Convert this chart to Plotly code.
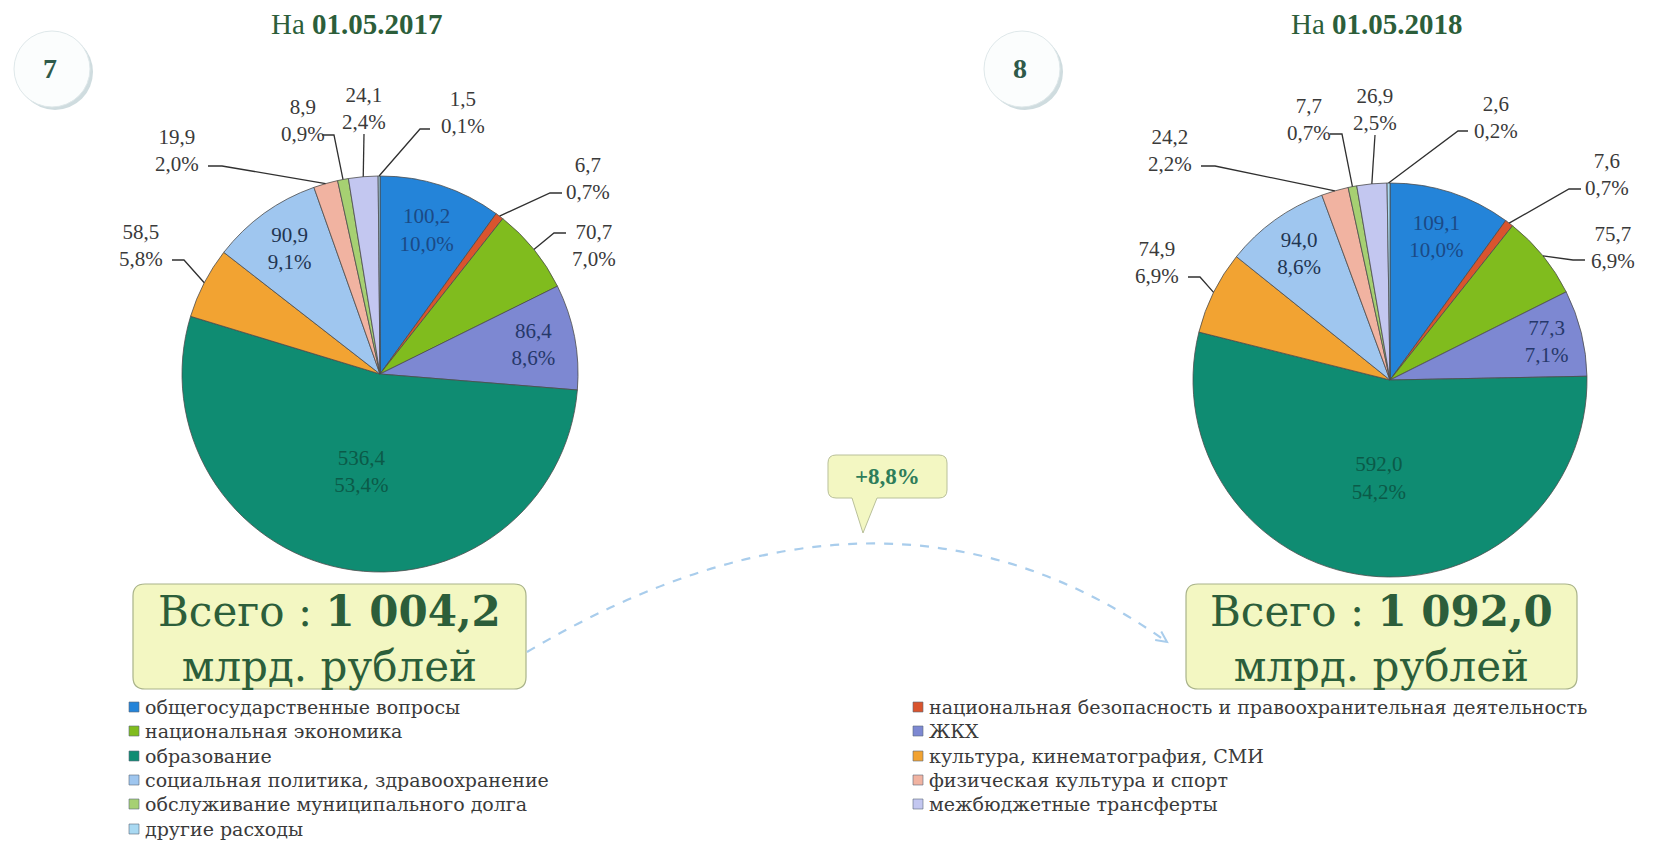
import math
import plotly.graph_objects as go

W, H = 1662, 843

# ---------------- data ----------------
categories = [
    "общегосударственные вопросы",
    "национальная безопасность и правоохранительная деятельность",
    "национальная экономика",
    "ЖКХ",
    "образование",
    "культура, кинематография, СМИ",
    "социальная политика, здравоохранение",
    "физическая культура и спорт",
    "обслуживание муниципального долга",
    "межбюджетные трансферты",
    "другие расходы",
]
values_2017 = [100.2, 6.7, 70.7, 86.4, 536.4, 58.5, 90.9, 19.9, 8.9, 24.1, 1.5]
values_2018 = [109.1, 7.6, 75.7, 77.3, 592.0, 74.9, 94.0, 24.2, 7.7, 26.9, 2.6]
title_2017 = "На <b>01.05.2017</b>"
title_2018 = "На <b>01.05.2018</b>"
growth_label = "+8,8%"
chart_numbers = ["7", "8"]

# ---------------- styles ----------------
colors = ["#2484d9", "#d9542e", "#80bc1e", "#7d88d2", "#0f8c72", "#f2a332",
          "#9fc6ef", "#f1b3a1", "#a6d072", "#c3c7f0", "#a9d9f2"]
inside_text_colors = ["#1b4a86", "#333", "#333", "#26386a", "#0b5a48", "#333",
                      "#1f3552", "#333", "#333", "#333", "#333"]
SERIF = "Liberation Serif, Times New Roman, serif"
WIDE_SERIF = "DejaVu Serif, serif"
GREEN = "#2c5e3a"
LABEL_SIZE = 21

# outside-label placement (pixel positions): index -> (text_x, text_y, attach_x, attach_y, elbow)
labels_pos_2017 = {
    1: (588, 178, 562, 193, -12),
    2: (594, 245, 566, 233, -12),
    5: (141, 245, 172, 260, 12),
    7: (177, 151, 208, 166, 14),
    8: (303, 121, 322, 135, 12),
    9: (364, 108, 364, 134, 0),
    10: (463, 112, 430, 129, -10),
}
labels_pos_2018 = {
    1: (1607, 174, 1581, 189, -12),
    2: (1613, 247, 1585, 260, -12),
    5: (1157, 262, 1188, 277, 12),
    7: (1170, 151, 1201, 166, 14),
    8: (1309, 120, 1330, 134, 12),
    9: (1375, 109, 1375, 135, 0),
    10: (1496, 117, 1468, 131, -10),
}
pie_geom = [dict(cx=380, cy=374, r=198), dict(cx=1390, cy=380, r=197)]
title_x = [357, 1377]
box_x = [(133, 526), (1186, 1577)]
circle_x = [52, 1022]
legend_cols = [(134, 143), (918, 927)]
legend_rows = [707, 731, 756, 780, 804, 829]


def fx(px):
    return px / W


def fy(py):
    return 1 - py / H


def P(x, y):
    return f"{fx(x):.5f},{fy(y):.5f}"


def fmt(v, nd=1):
    s = f"{v:,.{nd}f}"
    return s.replace(",", " ").replace(".", ",")


def ann(x, y, text, font, xanchor="center", yanchor="middle", **kw):
    d = dict(x=fx(x), y=fy(y), xref="paper", yref="paper", showarrow=False, text=text,
             font=font, xanchor=xanchor, yanchor=yanchor)
    d.update(kw)
    return d


def rounded_rect(x0, y0, x1, y1, rr, tail=None):
    p = (f"M {P(x0 + rr, y0)} L {P(x1 - rr, y0)} Q {P(x1, y0)} {P(x1, y0 + rr)} "
         f"L {P(x1, y1 - rr)} Q {P(x1, y1)} {P(x1 - rr, y1)} ")
    if tail:
        ta, tb, tx, ty = tail
        p += f"L {P(tb, y1)} L {P(tx, ty)} L {P(ta, y1)} "
    p += (f"L {P(x0 + rr, y1)} Q {P(x0, y1)} {P(x0, y1 - rr)} L {P(x0, y0 + rr)} "
          f"Q {P(x0, y0)} {P(x0 + rr, y0)} Z")
    return p


fig = go.Figure()
annotations = []
shapes = []

for k, (vals, lpos, title, num) in enumerate([
    (values_2017, labels_pos_2017, title_2017, chart_numbers[0]),
    (values_2018, labels_pos_2018, title_2018, chart_numbers[1]),
]):
    geom = pie_geom[k]
    total = sum(vals)
    pcts = [v / total * 100 for v in vals]
    texts = ["" if i in lpos else f"{fmt(v)}<br>{fmt(p)}%" for i, (v, p) in enumerate(zip(vals, pcts))]
    cx, cy, r = geom["cx"], geom["cy"], geom["r"]
    fig.add_trace(go.Pie(
        labels=categories, values=vals, text=texts, textinfo="text",
        textposition="inside", insidetextorientation="horizontal",
        insidetextfont=dict(family=SERIF, size=LABEL_SIZE, color=inside_text_colors),
        sort=False, direction="clockwise", rotation=0,
        marker=dict(colors=colors, line=dict(color="#4d4d4d", width=0.8)),
        domain=dict(x=[fx(cx - r), fx(cx + r)], y=[fy(cy + r), fy(cy - r)]),
        showlegend=False, hoverinfo="label+value+percent",
    ))
    # outside labels with leader lines
    cum = 0
    for i, v in enumerate(vals):
        mid = (cum + v / 2) / total * 2 * math.pi
        cum += v
        if i not in lpos:
            continue
        tx, ty, ax_, ay_, elb = lpos[i]
        ex = cx + r * math.sin(mid)
        ey = cy - r * math.cos(mid)
        annotations.append(ann(tx, ty, f"{fmt(v)}<br>{fmt(pcts[i])}%",
                               dict(family=SERIF, size=LABEL_SIZE, color="#3a3a3a")))
        if elb:
            path = f"M {P(ax_, ay_)} L {P(ax_ + elb, ay_)} L {P(ex, ey)}"
        else:
            path = f"M {P(ax_, ay_)} L {P(ex, ey)}"
        shapes.append(dict(type="path", path=path, xref="paper", yref="paper",
                           line=dict(color="#303030", width=1.3)))
    # title
    annotations.append(ann(title_x[k], 24, title, dict(family=SERIF, size=29, color=GREEN)))
    # total box
    bx0, bx1 = box_x[k]
    by0, by1 = 584, 689
    shapes.append(dict(type="path", path=rounded_rect(bx0, by0, bx1, by1, 12), xref="paper", yref="paper",
                       fillcolor="#f3f7c2", line=dict(color="#a9b38a", width=1.2), layer="below"))
    annotations.append(ann((bx0 + bx1) / 2, (by0 + by1) / 2 + 2,
                           f"Всего : <b>{fmt(total)}</b><br>млрд. рублей",
                           dict(family=WIDE_SERIF, size=42, color=GREEN)))
    # number circle
    ncx, ncy, nr = circle_x[k], 69, 38
    shapes.append(dict(type="circle", xref="paper", yref="paper",
                       x0=fx(ncx - nr + 3), x1=fx(ncx + nr + 3), y0=fy(ncy + nr + 3), y1=fy(ncy - nr + 3),
                       fillcolor="#cfdcdf", line=dict(width=0), layer="below"))
    shapes.append(dict(type="circle", xref="paper", yref="paper",
                       x0=fx(ncx - nr), x1=fx(ncx + nr), y0=fy(ncy + nr), y1=fy(ncy - nr),
                       fillcolor="#fbfdfd", line=dict(color="#dfe8ea", width=1), layer="below"))
    annotations.append(ann(ncx - 2, ncy, f"<b>{num}</b>", dict(family=SERIF, size=28, color="#2f5a4a")))

# growth callout
shapes.append(dict(type="path", path=rounded_rect(828, 455, 947, 498, 8, tail=(852, 877, 863, 533)),
                   xref="paper", yref="paper", fillcolor="#f3f7c2", line=dict(color="#b9c09a", width=1)))
annotations.append(ann(887, 477, f"<b>{growth_label}</b>", dict(family=SERIF, size=23, color="#2e7d5a")))

# dashed curve arrow between totals
sx, sy, qx, qy, ex_, ey_ = 527, 652, 884, 440, 1167, 642
shapes.append(dict(type="path", path=f"M {P(sx, sy)} Q {P(qx, qy)} {P(ex_, ey_)}",
                   xref="paper", yref="paper",
                   line=dict(color="#a9cdec", width=2.2, dash="dash")))
dx, dy = ex_ - qx, ey_ - qy
n = math.hypot(dx, dy)
dx, dy = dx / n, dy / n
pts = []
for ang in (0.45, -0.45):
    c, s = math.cos(ang), math.sin(ang)
    rx, ry = dx * c - dy * s, dx * s + dy * c
    pts.append((ex_ - 12 * rx, ey_ - 12 * ry))
shapes.append(dict(type="path", path=f"M {P(*pts[0])} L {P(ex_, ey_)} L {P(*pts[1])}",
                   xref="paper", yref="paper", line=dict(color="#a9cdec", width=2)))

# legend (two columns, filled row by row)
for i, (cat, col) in enumerate(zip(categories, colors)):
    mx, tx = legend_cols[i % 2]
    ry = legend_rows[i // 2]
    shapes.append(dict(type="rect", xref="paper", yref="paper",
                       x0=fx(mx - 5), x1=fx(mx + 5), y0=fy(ry + 5), y1=fy(ry - 5),
                       fillcolor=col, line=dict(color="#5a6a7a", width=0.6)))
    annotations.append(ann(tx, ry, cat, dict(family=WIDE_SERIF, size=19, color="#3a3a3a"),
                           xanchor="left"))

fig.update_layout(
    width=W, height=H,
    margin=dict(l=0, r=0, t=0, b=0),
    paper_bgcolor="white", plot_bgcolor="white",
    showlegend=False,
    annotations=annotations, shapes=shapes,
)

fig.write_html("out.html", config={"displayModeBar": False},
               post_script="document.body.style.margin='0px';")
